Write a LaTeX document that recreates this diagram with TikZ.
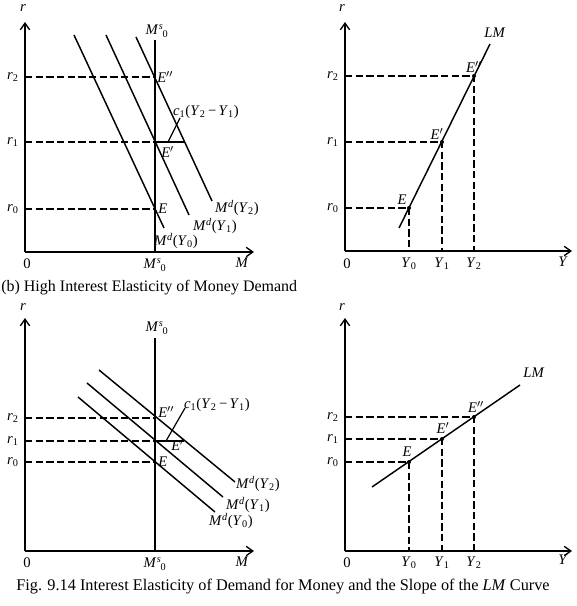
\documentclass[tikz,border=0pt]{standalone}
\usepackage{fontspec}
\setmainfont{Liberation Serif}
\usetikzlibrary{arrows.meta}
\newcommand{\xMs}{\textit{M}\textsuperscript{\kern0.3pt\textit{s}}\kern-0.8pt\textsubscript{0}}
\newcommand{\xMd}[1]{\textit{M}\textsuperscript{\textit{d}}(\textit{Y}\textsubscript{#1})}
\newcommand{\xr}[1]{\textit{r}\textsubscript{#1}}
\newcommand{\xY}[1]{\textit{Y}\textsubscript{#1}}
\newcommand{\xc}{\textit{c}\textsubscript{1}(\textit{Y}\textsubscript{2}\,−\,\textit{Y}\textsubscript{1})}
\begin{document}
\begin{tikzpicture}[x=0.75pt,y=-0.75pt,
  axis/.style={line width=1.1pt,-{Straight Barb[length=5pt,width=7pt,line width=1pt]}},
  curve/.style={line width=1.1pt},
  guide/.style={line width=0.9pt,dash pattern=on 5.5pt off 2.5pt},
  lbl/.style={inner sep=0pt,font=\fontsize{11}{13}\selectfont},
  dot/.style={circle,fill=black,inner sep=0pt,minimum size=3pt}]
\useasboundingbox (0,0) rectangle (576,606);

% ================= Top-left panel =================
\coordinate (TLo) at (25,252);
\coordinate (TLy) at (25,22);
\coordinate (TLx) at (254,252);
\draw[axis] (TLo) -- (TLy);
\draw[axis] (TLo) -- (TLx);
\coordinate (TLr2) at (25,77);
\coordinate (TLr1) at (25,142);
\coordinate (TLr0) at (25,209);
\coordinate (TLE2) at (155,77);
\coordinate (TLE1) at (155,142);
\coordinate (TLE0) at (155,209);
\coordinate (TLmt) at (155,40);
\coordinate (TLmb) at (155,252);
\draw[curve] (TLmt) -- (TLmb);
\draw[guide] (TLr2) -- (TLE2);
\draw[guide] (TLr1) -- (TLE1);
\draw[guide] (TLr0) -- (TLE0);
\coordinate (TLd0a) at (74,35);  \coordinate (TLd0b) at (164,228);
\coordinate (TLd1a) at (106,35); \coordinate (TLd1b) at (189,215);
\coordinate (TLd2a) at (136,37); \coordinate (TLd2b) at (212,201);
\draw[curve] (TLd0a) -- (TLd0b);
\draw[curve] (TLd1a) -- (TLd1b);
\draw[curve] (TLd2a) -- (TLd2b);
\coordinate (TLc) at (185,142);
\draw[curve] (TLE1) -- (TLc);
\coordinate (TLla) at (168,142);
\coordinate (TLlb) at (180,118);
\draw[line width=0.9pt] (TLla) -- (TLlb);
\node[lbl] (TLrl) at (23,8) {\textit{r}};
\node[lbl] (TLr2l) at (13,77) {\xr{2}};
\node[lbl] (TLr1l) at (13,142) {\xr{1}};
\node[lbl] (TLr0l) at (13,209) {\xr{0}};
\node[lbl] (TL0) at (27,264) {0};
\node[lbl] (TLMt) at (157,31) {\xMs};
\node[lbl] (TLMb) at (155,265) {\xMs};
\node[lbl] (TLM) at (242,263) {\textit{M}};
\node[lbl,anchor=west] (TLE2l) at (157,77) {\textit{E}$''$};
\node[lbl,anchor=west] (TLE1l) at (161,152) {\textit{E}$'$};
\node[lbl,anchor=west] (TLE0l) at (158,209) {\textit{E}};
\node[lbl] (TLd2l) at (237,208) {\xMd{2}};
\node[lbl] (TLd1l) at (215,226) {\xMd{1}};
\node[lbl] (TLd0l) at (176,241) {\xMd{0}};
\node[lbl] (TLcl) at (206,112) {\xc};

\node[lbl,anchor=west,font=\fontsize{12}{14}\selectfont] (capb) at (1,288) {(b) High Interest Elasticity of Money Demand};

% ================= Top-right panel =================
\coordinate (TRo) at (345,251);
\coordinate (TRy) at (345,22);
\coordinate (TRx) at (572,251);
\draw[axis] (TRo) -- (TRy);
\draw[axis] (TRo) -- (TRx);
\coordinate (TRE0) at (409,208);
\coordinate (TRE1) at (442,142);
\coordinate (TRE2) at (474,76);
\coordinate (TRr0) at (345,208);
\coordinate (TRr1) at (345,142);
\coordinate (TRr2) at (345,76);
\coordinate (TRY0) at (409,251);
\coordinate (TRY1) at (442,251);
\coordinate (TRY2) at (474,251);
\coordinate (TRla) at (399,228);
\coordinate (TRlb) at (490,44);
\draw[guide] (TRr0) -- (TRE0) -- (TRY0);
\draw[guide] (TRr1) -- (TRE1) -- (TRY1);
\draw[guide] (TRr2) -- (TRE2) -- (TRY2);
\draw[curve] (TRla) -- (TRlb);
\node[dot] (TRd0) at (TRE0) {};
\node[dot] (TRd1) at (TRE1) {};
\node[dot] (TRd2) at (TRE2) {};
\node[lbl] (TRrl) at (342,8) {\textit{r}};
\node[lbl] (TRr2l) at (333,76) {\xr{2}};
\node[lbl] (TRr1l) at (333,142) {\xr{1}};
\node[lbl] (TRr0l) at (333,208) {\xr{0}};
\node[lbl] (TR0) at (347,264) {0};
\node[lbl] (TRY0l) at (409,264) {\xY{0}};
\node[lbl] (TRY1l) at (442,264) {\xY{1}};
\node[lbl] (TRY2l) at (474,264) {\xY{2}};
\node[lbl] (TRYl) at (563,262) {\textit{Y}};
\node[lbl] (TRLM) at (495,33) {\textit{LM}};
\node[lbl] (TRE0l) at (402,200) {\textit{E}};
\node[lbl] (TRE1l) at (437,134) {\textit{E}$'$};
\node[lbl] (TRE2l) at (474,67) {\textit{E}$''$};

% ================= Bottom-left panel =================
\coordinate (BLo) at (25,551);
\coordinate (BLy) at (25,318);
\coordinate (BLx) at (254,551);
\draw[axis] (BLo) -- (BLy);
\draw[axis] (BLo) -- (BLx);
\coordinate (BLr2) at (25,418);
\coordinate (BLr1) at (25,441);
\coordinate (BLr0) at (25,462);
\coordinate (BLE2) at (155,418);
\coordinate (BLE1) at (155,441);
\coordinate (BLE0) at (155,462);
\coordinate (BLmt) at (155,338);
\coordinate (BLmb) at (155,551);
\draw[curve] (BLmt) -- (BLmb);
\draw[guide] (BLr2) -- (BLE2);
\draw[guide] (BLr1) -- (BLE1);
\draw[guide] (BLr0) -- (BLE0);
\coordinate (BLd0a) at (78,397);  \coordinate (BLd0b) at (215,512);
\coordinate (BLd1a) at (87,383);  \coordinate (BLd1b) at (223,497);
\coordinate (BLd2a) at (99,370);  \coordinate (BLd2b) at (235,482);
\draw[curve] (BLd0a) -- (BLd0b);
\draw[curve] (BLd1a) -- (BLd1b);
\draw[curve] (BLd2a) -- (BLd2b);
\coordinate (BLc) at (184,441);
\draw[curve] (BLE1) -- (BLc);
\coordinate (BLla) at (166,441);
\coordinate (BLlb) at (185,408);
\draw[line width=0.9pt] (BLla) -- (BLlb);
\node[lbl] (BLrl) at (23,307) {\textit{r}};
\node[lbl] (BLr2l) at (13,418) {\xr{2}};
\node[lbl] (BLr1l) at (13,441) {\xr{1}};
\node[lbl] (BLr0l) at (13,462) {\xr{0}};
\node[lbl] (BL0) at (27,563) {0};
\node[lbl] (BLMt) at (157,328) {\xMs};
\node[lbl] (BLMb) at (155,564) {\xMs};
\node[lbl] (BLM) at (242,562) {\textit{M}};
\node[lbl,anchor=west] (BLE2l) at (158,412) {\textit{E}$''$};
\node[lbl,anchor=west] (BLE1l) at (171,445) {\textit{E}$'$};
\node[lbl,anchor=west] (BLE0l) at (158,462) {\textit{E}};
\node[lbl] (BLd2l) at (258,484) {\xMd{2}};
\node[lbl] (BLd1l) at (248,505) {\xMd{1}};
\node[lbl] (BLd0l) at (231,521) {\xMd{0}};
\node[lbl] (BLcl) at (217,405) {\xc};

% ================= Bottom-right panel =================
\coordinate (BRo) at (345,551);
\coordinate (BRy) at (345,318);
\coordinate (BRx) at (572,551);
\draw[axis] (BRo) -- (BRy);
\draw[axis] (BRo) -- (BRx);
\coordinate (BRE0) at (409,462);
\coordinate (BRE1) at (442,439);
\coordinate (BRE2) at (474,417);
\coordinate (BRr0) at (345,462);
\coordinate (BRr1) at (345,439);
\coordinate (BRr2) at (345,417);
\coordinate (BRY0) at (409,551);
\coordinate (BRY1) at (442,551);
\coordinate (BRY2) at (474,551);
\coordinate (BRla) at (372,487);
\coordinate (BRlb) at (520,385);
\draw[guide] (BRr0) -- (BRE0) -- (BRY0);
\draw[guide] (BRr1) -- (BRE1) -- (BRY1);
\draw[guide] (BRr2) -- (BRE2) -- (BRY2);
\draw[curve] (BRla) -- (BRlb);
\node[dot] (BRd0) at (BRE0) {};
\node[dot] (BRd1) at (BRE1) {};
\node[dot] (BRd2) at (BRE2) {};
\node[lbl] (BRrl) at (342,307) {\textit{r}};
\node[lbl] (BRr2l) at (333,417) {\xr{2}};
\node[lbl] (BRr1l) at (333,439) {\xr{1}};
\node[lbl] (BRr0l) at (333,462) {\xr{0}};
\node[lbl] (BR0) at (347,563) {0};
\node[lbl] (BRY0l) at (409,563) {\xY{0}};
\node[lbl] (BRY1l) at (442,563) {\xY{1}};
\node[lbl] (BRY2l) at (474,563) {\xY{2}};
\node[lbl] (BRYl) at (563,560) {\textit{Y}};
\node[lbl] (BRLM) at (534,373) {\textit{LM}};
\node[lbl] (BRE0l) at (407,452) {\textit{E}};
\node[lbl] (BRE1l) at (443,428) {\textit{E}$'$};
\node[lbl] (BRE2l) at (476,407) {\textit{E}$''$};

\node[inner sep=0pt,font=\fontsize{12.2}{14}\selectfont] (cap) at (283,587) {Fig. 9.14 Interest Elasticity of Demand for Money and the Slope of the \textit{LM} Curve};
\end{tikzpicture}
\end{document}
